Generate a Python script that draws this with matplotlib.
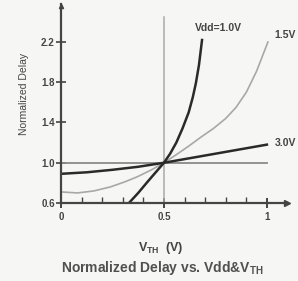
import numpy as np
import matplotlib
matplotlib.use("Agg")
import matplotlib.pyplot as plt

plt.rcParams["font.family"] = ["Liberation Sans", "DejaVu Sans"]

# curves (V_TH, normalized delay)
vth_10 = [0.33, 0.375, 0.42, 0.46, 0.50, 0.53, 0.56, 0.59, 0.62, 0.64, 0.655, 0.67, 0.685]
delay_10 = [0.60, 0.70, 0.81, 0.905, 1.00, 1.09, 1.20, 1.34, 1.50, 1.65, 1.79, 1.97, 2.22]

vth_15 = [0.0, 0.08, 0.16, 0.24, 0.31, 0.37, 0.44, 0.50, 0.56, 0.62, 0.68, 0.74,
          0.80, 0.85, 0.90, 0.95, 1.005]
delay_15 = [0.71, 0.70, 0.72, 0.76, 0.81, 0.86, 0.93, 1.00, 1.08, 1.165, 1.255, 1.34,
            1.44, 1.55, 1.70, 1.91, 2.20]

vth_30 = [0.0, 0.125, 0.25, 0.375, 0.50, 0.625, 0.75, 0.875, 1.0]
delay_30 = [0.89, 0.905, 0.93, 0.96, 1.00, 1.045, 1.09, 1.135, 1.18]

y_ticks = [0.6, 1.0, 1.4, 1.8, 2.2]
x_ticks = [0, 0.5, 1]
x_tick_labels = ["0", "0.5", "1"]

bg = "#f6f6f4"
txt = "#444444"
axis_col = "#444444"

fig = plt.figure(figsize=(2.98, 2.81), dpi=100, facecolor=bg)
ax = fig.add_axes([0.2047, 0.2776, 0.760, 0.709])
ax.set_facecolor(bg)
ax.set_xlim(0, 1.1)
ax.set_ylim(0.6, 2.58)

for s in ["top", "right"]:
    ax.spines[s].set_visible(False)
for s in ["left", "bottom"]:
    ax.spines[s].set_color(axis_col)
    ax.spines[s].set_linewidth(1.6)

# arrow heads on the axes
ax.plot(1.1, 0.6, ">", color=axis_col, markersize=5, clip_on=False)
ax.plot(0, 2.56, "^", color=axis_col, markersize=3, clip_on=False)

# reference lines
ax.plot([0, 1.0], [1.0, 1.0], color="#8a8a8a", lw=1.3)
ax.plot([0.5, 0.5], [0.6, 2.45], color="#aaaaaa", lw=1.1)

ax.plot(vth_15, delay_15, color="#a8a8a8", lw=1.2, solid_joinstyle="round")
ax.plot(vth_30, delay_30, color="#2a2a2a", lw=1.8, solid_joinstyle="round")
ax.plot(vth_10, delay_10, color="#2a2a2a", lw=1.8, solid_joinstyle="round")

ax.text(0.767, 2.34, "Vdd=1.0V", fontsize=7.5, fontweight="bold", color=txt,
        ha="center", va="center")
ax.text(1.09, 2.27, "1.5V", fontsize=7.5, fontweight="bold", color=txt,
        ha="center", va="center")
ax.text(1.09, 1.2, "3.0V", fontsize=7.5, fontweight="bold", color=txt,
        ha="center", va="center")

ax.set_yticks(y_ticks)
ax.set_yticklabels([f"{v:.1f}" for v in y_ticks])
ax.set_xticks(x_ticks)
ax.set_xticklabels(x_tick_labels)
ax.set_xticks(np.arange(0.1, 1.0, 0.1), minor=True)
ax.tick_params(axis="y", direction="inout", length=7, width=1.2, colors=axis_col,
               labelsize=7, pad=1)
ax.tick_params(axis="x", which="major", direction="inout", length=7, width=1.4,
               colors=axis_col, labelsize=7, pad=3)
ax.tick_params(axis="x", which="minor", direction="in", length=4, width=1,
               colors=axis_col)
for lab in ax.get_xticklabels() + ax.get_yticklabels():
    lab.set_fontweight("bold")
    lab.set_color(txt)

fig.text(24 / 298, 1 - 94 / 281, "Normalized Delay", fontsize=7.5, color=txt,
         rotation=90, ha="center", va="center")

fig.text(0.54, 0.118, r"V$_{\mathregular{TH}}$  (V)", fontsize=9, fontweight="bold",
         color=txt, ha="center", va="center")
fig.text(0.545, 0.045, r"Normalized Delay vs. Vdd&V$_{\mathregular{TH}}$", fontsize=10,
         fontweight="bold", color="#505050", ha="center", va="center")

fig.savefig("out.png", dpi=100, facecolor=bg)
